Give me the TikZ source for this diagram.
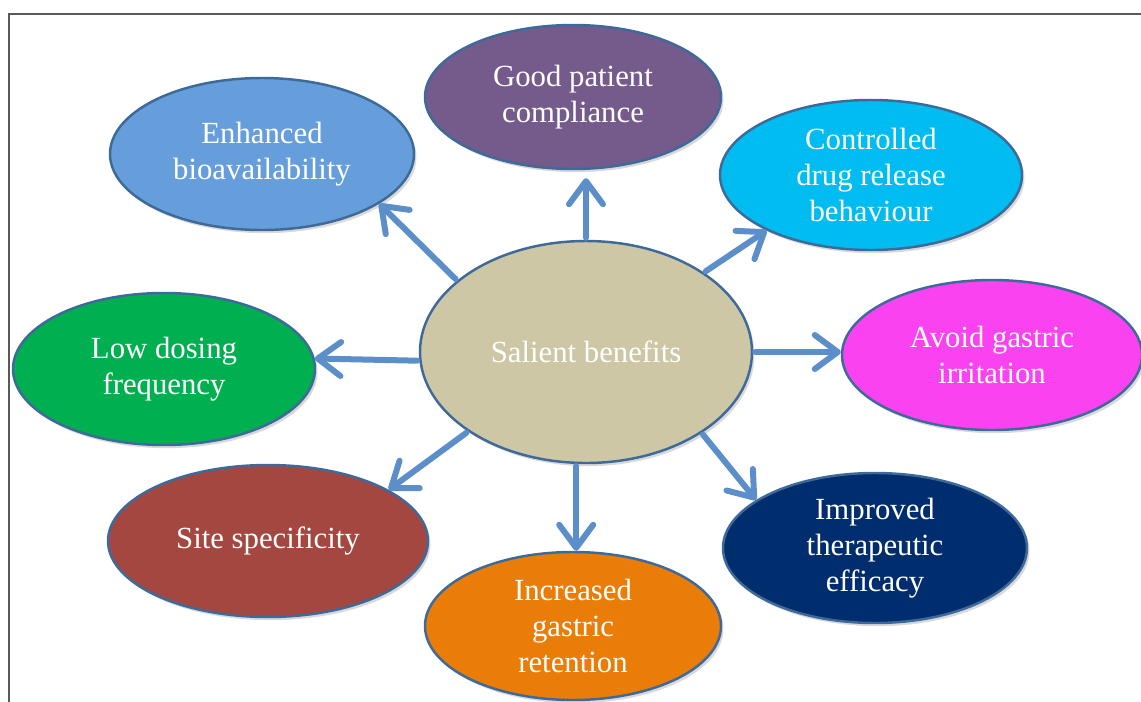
\documentclass[tikz,border=0pt]{standalone}
\usepackage{fontspec}
\setmainfont{Liberation Serif}
\usetikzlibrary{shapes.geometric,arrows.meta,shadows}

\definecolor{centro}{RGB}{205,199,166}
\definecolor{bordo}{RGB}{62,106,154}
\definecolor{frecce}{RGB}{92,143,201}
\definecolor{azzurro}{RGB}{101,158,218}
\definecolor{viola}{RGB}{117,90,140}
\definecolor{ciano}{RGB}{0,188,240}
\definecolor{magenta}{RGB}{250,66,240}
\definecolor{verde}{RGB}{0,176,80}
\definecolor{rosso}{RGB}{163,71,64}
\definecolor{arancio}{RGB}{233,125,8}
\definecolor{blunotte}{RGB}{0,45,110}

\begin{document}
\begin{tikzpicture}[x=0.2mm, y=-0.2mm,
    >={Straight Barb[length=4.6mm,width=6.8mm,round]},
    benefit/.style={ellipse, draw=bordo, line width=1.4pt, inner sep=0pt,
        text=white, align=center, font=\fontsize{17.5}{20.5}\selectfont,
        drop shadow={shadow xshift=1.4pt, shadow yshift=-1.8pt, opacity=0.3}},
    freccia/.style={->, draw=frecce, line width=1.2mm, line cap=round, shorten <=0.4mm}]
    \useasboundingbox (0,0) rectangle (1141,702);

    % Cornice
    \draw[black!65, line width=0.45mm] (9,720) |- (1160,14);

    % Nodo centrale
    \node[benefit, fill=centro, minimum width=66.4mm, minimum height=44.4mm] (sal) at (586,352) {Salient benefits};

    % Benefici
    \node[benefit, fill=azzurro, minimum width=60.8mm, minimum height=30.4mm] (enh) at (262,154) {Enhanced\\bioavailability};
    \node[benefit, fill=viola, minimum width=59.2mm, minimum height=28.8mm] (good) at (573,97) {Good patient\\compliance};
    \node[benefit, fill=ciano, minimum width=60.4mm, minimum height=30mm] (ctl) at (871,175) {Controlled\\drug release\\behaviour};
    \node[benefit, fill=magenta, minimum width=60mm, minimum height=30mm] (avo) at (992,355) {Avoid gastric\\irritation};
    \node[benefit, fill=verde, minimum width=60.4mm, minimum height=30.4mm] (low) at (164,369) {Low dosing\\frequency};
    \node[benefit, fill=rosso, minimum width=64mm, minimum height=30.4mm] (site) at (268,541) {Site specificity};
    \node[benefit, fill=arancio, minimum width=59.2mm, minimum height=29.6mm] (inc) at (573,626) {Increased\\gastric\\retention};
    \node[benefit, fill=blunotte, minimum width=60.8mm, minimum height=30mm] (imp) at (875,548) {Improved\\therapeutic\\efficacy};

    % Frecce
    \draw[freccia] (sal.151) -- (enh.-23);
    \draw[freccia, shorten >=1.6mm] (sal.north) -- (sal.north |- good.south);
    \draw[freccia] (sal.34) -- (ctl.208);
    \draw[freccia] (sal.east) -- (sal.east -| avo.west);
    \draw[freccia] (sal.183) -- (low.4);
    \draw[freccia] (sal.214) -- (site.23);
    \draw[freccia] (sal.-95) -- (sal.-95 |- inc.north);
    \draw[freccia] (sal.-35) -- (imp.158);

\end{tikzpicture}
\end{document}
